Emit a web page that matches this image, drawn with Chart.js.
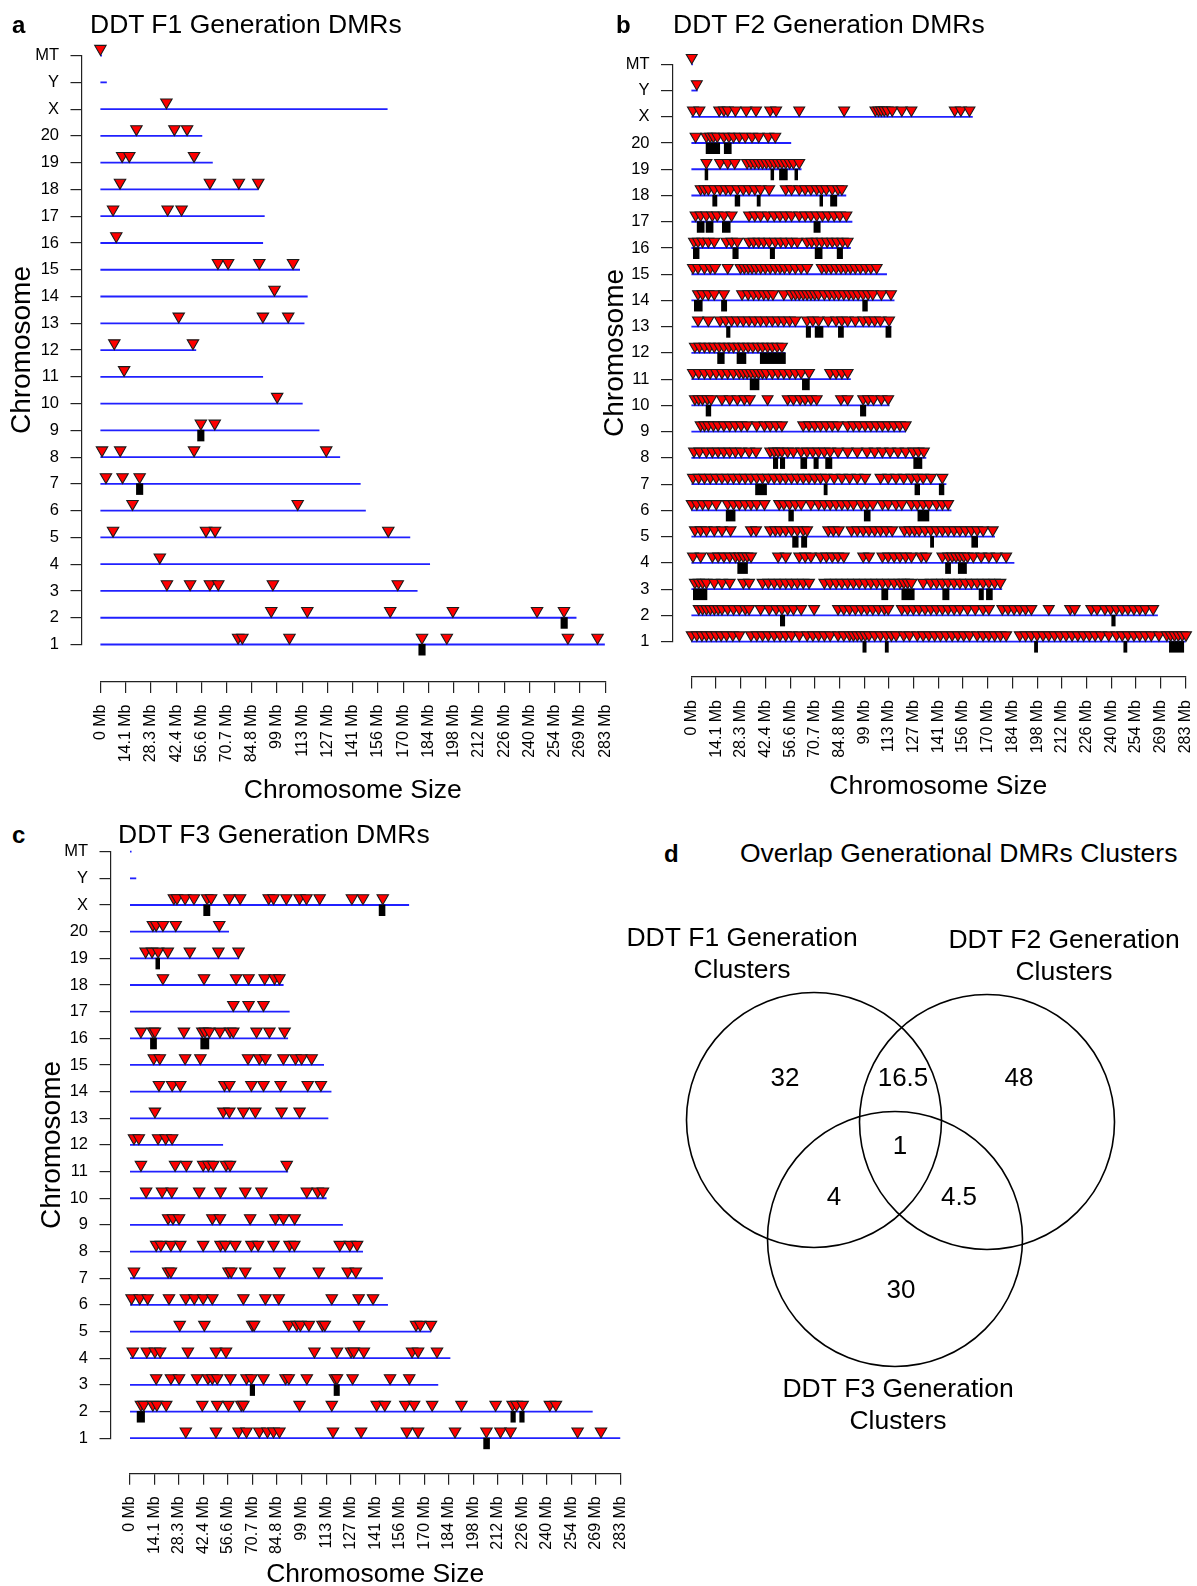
<!DOCTYPE html>
<html><head><meta charset="utf-8">
<script src="https://cdn.jsdelivr.net/npm/chart.js@4.4.1/dist/chart.umd.min.js"></script>
<style>
html,body{margin:0;padding:0;background:#fff;overflow:hidden;width:1197px;height:1586px;}
#stage{position:relative;width:1197px;height:1586px;overflow:hidden;}
canvas{position:absolute;}
.t{position:absolute;white-space:nowrap;font-family:"Liberation Sans",Arial,Helvetica,sans-serif;color:#000;line-height:1;}
</style></head><body><div id="stage"></div>
<script>
// ---------------- DATA ----------------
const chromLabels = ['1','2','3','4','5','6','7','8','9','10','11','12','13','14','15','16','17','18','19','20','X','Y','MT'];
const chromLengths = [282.8,266.9,177.8,184.8,173.7,148.8,145.9,134.4,122.8,113.4,91.2,53.7,114.4,116.2,111.9,91.2,92.1,88.6,63.0,57.1,161.0,3.6,0.9];
const xTickValues = [0,14.15,28.3,42.45,56.6,70.75,84.9,99.05,113.2,127.35,141.5,155.65,169.8,183.95,198.1,212.25,226.4,240.55,254.7,268.85,283];
const xTickLabels = ['0 Mb','14.1 Mb','28.3 Mb','42.4 Mb','56.6 Mb','70.7 Mb','84.8 Mb','99 Mb','113 Mb','127 Mb','141 Mb','156 Mb','170 Mb','184 Mb','198 Mb','212 Mb','226 Mb','240 Mb','254 Mb','269 Mb','283 Mb'];

// DMR positions (Mb), one list per chromosome in chromLabels order
const f1DMRs = [
 [77.2,79.6,106.0,180.3,194.2,262.1,278.7],
 [95.8,116.0,162.5,197.6,244.8,259.9],
 [37.3,50.3,61.4,66.1,96.7,166.7],
 [33.3],
 [7.1,59.2,64.3,161.4],
 [18.0,110.6],
 [3.1,12.4,22.0],
 [0.9,11.1,52.5,126.6],
 [56.3,64.1],
 [99.1],
 [13.3],
 [7.8,51.9],
 [43.9,91.1,105.3],
 [97.6],
 [65.9,71.6,89.1,108.0],
 [8.9],
 [7.1,37.7,45.5],
 [11.0,61.4,77.6,88.5],
 [12.2,16.2,52.5],
 [20.2,41.5,48.6],
 [37.0],
 [],
 [0.0]
];
const f1Clusters = [['9',54.3,58.3],['7',20.0,24.0],['2',258.0,262.0],['1',178.3,182.3]];

const f2DMRs = [
 [0.2,3.1,6.0,8.6,11.3,14.2,17.0,20.1,23.7,27.4,34.1,37.4,40.7,44.0,47.4,50.7,54.0,57.3,61.7,66.2,69.5,72.8,76.1,79.4,83.9,87.2,90.5,92.7,94.9,97.2,99.4,101.6,104.9,108.2,111.5,114.4,117.1,121.5,124.8,129.2,132.6,135.9,139.2,142.5,145.8,149.2,152.5,155.8,159.1,163.5,166.9,170.2,173.5,176.8,180.1,187.9,191.2,194.5,197.8,201.2,204.5,207.8,211.1,214.4,217.8,221.1,224.4,227.7,231.0,234.4,238.8,243.2,246.5,249.8,253.2,256.5,259.8,263.1,267.5,272.0,274.2,276.4,278.6,280.8,283.0],
 [4.2,6.4,8.6,10.8,13.1,15.3,17.5,20.8,24.1,27.4,30.8,33.0,39.6,44.5,48.5,51.8,55.1,58.4,62.8,70.2,83.9,87.2,90.5,93.8,97.2,100.5,103.8,107.1,110.4,112.6,120.4,123.7,127.0,130.3,133.7,137.0,140.3,143.6,146.9,150.3,153.6,158.0,162.4,166.9,170.2,177.9,181.2,184.6,187.9,191.2,194.5,204.5,216.7,219.3,228.8,232.1,236.6,239.9,243.2,246.5,249.8,253.2,256.5,259.8,264.2],
 [2.0,4.2,6.4,8.6,13.1,17.5,21.9,29.7,33.0,40.7,44.0,47.4,50.7,54.0,57.3,60.6,64.0,67.3,76.1,79.4,82.8,86.1,89.4,92.7,96.0,99.4,102.7,106.0,109.3,112.6,116.0,119.3,121.5,123.7,125.9,132.6,137.0,140.3,143.6,146.9,150.3,153.6,156.9,160.2,163.5,166.9,170.2,173.5,176.8],
 [0.9,5.3,12.0,15.3,18.6,21.9,25.2,27.4,29.7,31.9,34.1,49.6,54.0,61.7,65.1,68.4,73.9,77.2,80.6,83.9,87.2,98.3,101.6,109.3,112.6,116.0,119.3,122.6,125.9,131.5,134.3,143.6,146.9,149.2,151.4,153.6,155.8,158.0,161.3,165.8,170.2,174.6,180.1],
 [2.0,5.3,8.6,13.1,17.5,22.4,34.1,37.0,45.1,48.0,50.7,54.0,57.3,60.6,64.0,66.2,78.3,81.2,84.3,91.6,94.9,98.3,101.6,104.9,108.2,111.5,114.9,121.9,124.8,127.7,130.3,133.7,137.0,140.3,143.6,146.9,150.3,153.6,156.9,160.2,163.5,166.9,172.4],
 [0.2,3.1,6.4,9.7,14.2,20.8,24.1,27.4,30.8,34.1,37.4,41.8,50.2,52.9,56.2,59.5,62.8,68.4,72.8,76.1,79.4,82.8,86.1,89.4,92.7,97.2,100.5,103.8,109.3,112.6,117.1,120.4,125.9,129.2,132.6,135.9,140.3,143.6,146.9],
 [0.9,4.2,7.5,10.8,14.2,17.5,20.8,24.1,27.4,30.8,34.1,37.4,40.7,44.0,47.4,50.7,54.0,57.3,60.6,64.0,67.3,70.6,73.9,77.2,81.7,86.1,90.5,94.9,99.4,108.2,112.6,117.1,121.5,125.9,129.2,132.6,137.0,143.6],
 [1.5,4.6,8.6,12.0,15.3,18.6,21.9,25.2,28.5,33.0,37.0,45.1,47.4,49.6,51.8,55.1,58.4,62.8,66.2,69.5,72.8,76.1,79.4,83.9,89.4,94.9,100.5,104.9,109.3,113.7,118.2,122.6,127.0,129.9,133.0],
 [5.3,7.5,9.7,12.6,15.3,18.6,21.9,25.2,28.5,31.9,37.4,41.8,45.1,48.5,51.8,64.0,67.3,70.6,73.9,77.2,80.6,83.9,89.4,92.7,96.0,99.4,102.7,106.0,109.3,112.6,116.0,119.3,122.6],
 [2.0,4.2,6.4,9.1,11.3,17.5,21.9,26.3,30.3,33.4,43.6,55.1,58.4,62.2,65.1,68.4,71.7,85.6,89.4,98.3,101.1,104.2,108.7,112.6],
 [0.9,4.2,7.5,10.8,14.2,17.5,20.8,24.1,27.4,29.7,31.9,34.1,36.3,38.5,40.7,42.9,46.3,49.6,52.9,56.2,59.5,62.8,67.3,79.4,82.8,86.1,89.4],
 [2.0,4.6,7.5,10.4,13.1,15.9,18.6,21.5,24.1,27.0,29.7,32.5,35.2,38.1,40.7,43.6,46.3,49.1,51.8],
 [3.8,9.7,16.4,19.7,23.0,26.3,29.7,33.0,36.3,39.6,42.9,46.3,49.6,52.9,56.2,59.5,66.2,69.5,72.8,78.3,82.8,86.1,89.4,93.8,98.3,101.6,104.9,108.2,113.1],
 [3.8,6.4,9.7,13.1,18.6,29.0,32.5,35.6,38.5,41.4,44.0,46.7,52.9,57.3,59.5,61.7,64.0,66.2,68.4,70.6,72.8,76.1,79.0,81.7,84.3,87.2,90.1,92.7,95.4,98.3,101.1,103.8,108.7,114.2],
 [0.9,3.8,7.5,10.8,13.5,20.8,28.1,30.3,32.5,34.7,37.0,39.6,42.3,45.1,48.0,50.7,53.3,56.2,59.5,62.8,66.2,74.6,77.2,79.9,82.8,85.6,88.3,91.0,93.8,96.7,99.8,102.7,106.0],
 [1.5,3.8,6.4,9.7,13.1,20.1,23.0,26.3,33.0,35.6,38.5,41.4,44.5,48.0,51.1,54.0,57.3,60.6,66.2,68.8,71.7,74.6,77.7,80.6,83.4,86.5,89.4],
 [2.4,5.3,8.6,12.0,14.8,18.6,23.0,33.0,36.3,39.6,43.6,47.4,50.7,54.0,57.3,61.7,65.1,68.4,71.7,75.0,78.3,81.7,85.0,88.7],
 [5.3,7.5,9.7,13.1,16.4,19.7,22.4,26.3,29.7,33.0,36.3,39.6,44.5,54.0,57.3,61.7,65.1,68.4,71.7,74.4,77.2,80.6,83.9,86.1],
 [8.6,16.4,20.8,24.8,31.9,34.1,36.3,38.5,40.7,42.9,45.1,47.4,49.6,51.8,54.0,56.2,58.4,61.7],
 [2.4,8.6,10.8,12.6,14.8,18.6,21.5,24.1,27.4,30.8,34.7,38.5,44.0,48.0],
 [0.9,4.6,15.9,18.6,20.8,25.2,31.4,37.0,45.1,48.5,61.7,87.4,105.3,107.1,108.7,110.4,112.2,114.9,120.4,125.9,150.7,154.2,159.1],
 [3.1],
 [0.2]
];
const f2Clusters = [
 ['20',8.2,16.4],['20',18.6,23.0],
 ['19',7.6,9.6],['19',45.3,47.3],['19',50.2,55.1],['19',59.0,61.0],
 ['18',12.0,14.8],['18',24.8,27.9],['18',37.4,39.6],['18',73.3,75.3],['18',79.4,83.4],
 ['17',3.1,7.5],['17',8.2,12.6],['17',17.5,22.4],['17',69.9,73.9],
 ['16',0.9,4.6],['16',23.5,27.0],['16',44.9,47.8],['16',70.6,75.0],['16',83.2,86.7],
 ['14',1.5,6.4],['14',17.0,20.4],['14',97.8,100.9],
 ['13',19.9,22.3],['13',65.5,68.4],['13',70.6,75.5],['13',83.9,87.2],['13',111.1,114.4],
 ['12',14.8,19.0],['12',25.9,31.4],['12',39.2,54.0],
 ['11',33.4,38.9],['11',63.3,67.7],
 ['10',8.2,11.3],['10',96.5,100.0],
 ['8',46.7,49.6],['8',50.7,53.6],['8',62.4,66.2],['8',69.9,72.8],['8',76.6,80.6],['8',127.0,132.1],
 ['7',36.5,43.2],['7',75.7,77.9],['7',127.7,130.8],['7',141.6,144.7],
 ['6',19.7,25.2],['6',55.5,58.6],['6',98.7,102.5],['6',129.4,136.1],
 ['5',57.7,61.3],['5',62.8,66.2],['5',136.6,138.8],['5',160.2,164.0],
 ['4',26.3,32.3],['4',145.2,148.5],['4',152.5,157.6],
 ['3',0.9,9.1],['3',108.7,112.6],['3',120.2,127.7],['3',143.6,147.6],['3',164.4,167.3],['3',168.6,172.4],
 ['2',50.7,53.6],['2',240.3,242.7],
 ['1',97.9,100.2],['1',110.7,112.9],['1',196.1,198.3],['1',247.2,249.4],['1',273.3,281.9]
];

const f3DMRs = [
 [32.2,49.6,62.6,67.2,74.6,79.3,82.8,86.2,117.1,133.3,159.7,166.2,187.5,205.6,213.7,219.5,258.2,271.7],
 [6.3,7.9,13.2,15.5,20.9,41.7,50.3,56.8,64.2,65.4,97.8,116.4,142.3,147.0,158.8,163.9,174.3,191.2,210.9,220.7,223.0,226.5,242.2,245.7],
 [15.1,23.6,28.3,38.7,45.0,47.5,50.3,57.9,67.2,70.0,77.0,89.7,91.6,102.0,118.2,119.4,128.4,150.0,161.1],
 [1.6,9.7,14.4,17.4,33.4,49.6,55.4,106.4,119.4,127.5,129.1,134.9,162.7,166.2,177.1],
 [28.7,42.9,70.5,71.6,91.6,96.2,98.3,103.2,111.0,112.4,132.1,165.0,167.4,173.6],
 [0.9,5.6,10.2,22.5,32.2,37.1,42.2,47.5,65.4,78.1,85.8,116.4,131.9,140.2],
 [2.3,22.0,23.6,56.8,58.4,66.5,86.2,108.9,125.6,130.3],
 [15.1,17.8,23.6,29.0,42.2,52.2,54.9,60.7,70.0,73.9,82.8,92.0,94.8,121.0,126.8,131.0],
 [22.0,24.8,28.3,47.5,51.9,69.3,83.9,88.5,95.0],
 [9.3,18.5,24.1,39.9,52.2,66.5,75.8,102.0,108.3,111.3],
 [6.3,26.0,32.5,42.2,45.2,48.0,55.4,57.7,90.4],
 [2.3,5.1,16.2,20.6,24.3],
 [14.4,53.8,57.3,65.4,72.3,87.4,97.8],
 [16.7,24.3,29.0,54.5,57.3,70.0,77.0,86.9,102.5,110.1],
 [13.7,17.2,31.8,40.6,68.1,74.6,78.1,88.5,95.5,99.0,104.8],
 [6.3,13.2,14.4,31.1,41.7,43.3,45.7,51.9,57.7,59.6,73.0,80.4,89.2],
 [59.6,68.4,77.0],
 [19.0,42.7,61.2,68.4,77.7,83.4,86.2],
 [9.0,12.7,16.2,21.8,34.5,51.0,62.6],
 [13.2,15.1,19.0,26.4,51.5],
 [25.3,27.1,31.8,36.9,44.5,46.8,57.3,63.5,80.0,82.8,90.2,97.8,101.8,109.4,128.0,134.4,145.8],
 [],
 []
];
const f3Clusters = [['X',42.3,46.3],['X',143.5,147.3],['19',14.7,17.3],['16',11.6,15.5],['16',40.6,45.7],['3',69.1,72.1],['3',117.5,121.0],['2',3.9,8.6],['2',219.5,222.5],['2',224.6,227.6],['1',203.8,207.6]];

// Venn diagram
const vennSetLabels = [['DDT F1 Generation','Clusters'],['DDT F2 Generation','Clusters'],['DDT F3 Generation','Clusters']];
const vennRegionNames = ['F1 only','F1 & F2','F2 only','F1 & F2 & F3','F1 & F3','F2 & F3','F3 only'];
const vennRegionValues = [32, 16.5, 48, 1, 4, 4.5, 30];

// ---------------- LAYOUT (pixels) ----------------
const FONT = '"Liberation Sans", Arial, Helvetica, sans-serif';
const BIG = 26.5;
const YTITLE = 28;
const PANELS = [
 {dmrs:f1DMRs, clusters:f1Clusters, yAxisX:82, x0:100.4, x283:605.2, yTop:55.6, yBot:644.5, xAxisY:681.5, xTitleY:791, yTitleX:22, triR:6.6},
 {dmrs:f2DMRs, clusters:f2Clusters, yAxisX:672.5, x0:691.4, x283:1186, yTop:64.3, yBot:641.6, xAxisY:677, xTitleY:787, yTitleX:615, triR:6.3},
 {dmrs:f3DMRs, clusters:f3Clusters, yAxisX:111, x0:130, x283:620.6, yTop:851.7, yBot:1438.2, xAxisY:1473.3, xTitleY:1575, yTitleX:52, triR:6.6}
];
const VENN_BOX = {left:620, top:880, width:577, height:566};
const VENN_CIRCLES = [{x:194,y:240},{x:367,y:242},{x:275,y:359}];
const VENN_R = 127.5;
const VENN_SET_POS = [{x:122,y:59},{x:444,y:61},{x:278,y:510}];
const VENN_LINE_GAP = 32;
const VENN_VALUE_POS = [{x:165,y:199},{x:283,y:199},{x:399,y:199},{x:280,y:267},{x:214,y:318},{x:339,y:318},{x:281,y:411}];

Chart.defaults.font.family = FONT;
Chart.defaults.color = '#000';
const stage = document.getElementById('stage');

function makeCanvas(left, top, w, h) {
  const c = document.createElement('canvas');
  c.width = w; c.height = h;
  c.style.left = left + 'px'; c.style.top = top + 'px';
  c.style.width = w + 'px'; c.style.height = h + 'px';
  stage.appendChild(c);
  return c;
}
function addText(text, left, baseline, size, bold) {
  const d = document.createElement('div');
  d.className = 't';
  d.textContent = text;
  d.style.fontSize = size + 'px';
  d.style.lineHeight = size + 'px';
  if (bold) d.style.fontWeight = 'bold';
  d.style.left = left + 'px';
  d.style.top = (baseline - 0.8465 * size) + 'px';
  stage.appendChild(d);
}

function buildPanel(P) {
  const step = (P.yBot - P.yTop) / 22;
  const pxPerMb = (P.x283 - P.x0) / 283;
  const triOff = (P.triR + 0.3) / step;
  const barH = 11.5;
  const barOff = (barH / 2 - 0.5) / step;
  const datasets = [];
  const pts = [];
  P.dmrs.forEach((arr, i) => arr.forEach(mb => pts.push({x: mb, y: i + 1 + triOff})));
  datasets.push({type:'scatter', data:pts, order:0, showLine:false, clip:false,
    pointStyle:'triangle', pointRotation:180, pointRadius:P.triR, pointHoverRadius:P.triR,
    pointBackgroundColor:'#ff0000', pointBorderColor:'#1a1a1a', pointBorderWidth:1.1});
  P.clusters.forEach(c => {
    const yv = chromLabels.indexOf(c[0]) + 1 - barOff;
    datasets.push({type:'line', data:[{x:c[1], y:yv}, {x:c[2], y:yv}], order:1, clip:false,
      borderColor:'#000', borderWidth:barH, borderCapStyle:'butt', pointRadius:0, fill:false, tension:0});
  });
  chromLengths.forEach((len, i) => {
    datasets.push({type:'line', data:[{x:0, y:i + 1}, {x:len, y:i + 1}], order:2, clip:false,
      borderColor:'#2020ff', borderWidth:1.8, borderCapStyle:'butt', pointRadius:0, fill:false, tension:0});
  });

  // data + y axis chart
  const cl = Math.floor(P.yTitleX - 20);
  const ct = Math.floor(P.yTop - 22);
  const cw = Math.ceil(P.x283 + 12 - cl);
  const ch = Math.ceil(P.yBot + 22 - ct);
  new Chart(makeCanvas(cl, ct, cw, ch), {
    type:'scatter',
    data:{datasets},
    options:{
      responsive:false, animation:false, events:[], devicePixelRatio:1,
      layout:{autoPadding:false, padding:{left:0, top:P.yTop - ct, right:cl + cw - P.x283, bottom:ct + ch - P.yBot}},
      plugins:{legend:{display:false}, tooltip:{enabled:false}},
      scales:{
        x:{type:'linear', display:false, min:-(P.x0 - P.yAxisX) / pxPerMb, max:283},
        y:{type:'linear', position:'left', min:1, max:23,
          afterFit: s => { s.width = P.yAxisX - cl; },
          afterBuildTicks: s => { s.ticks = chromLabels.map((_, i) => ({value:i + 1})); },
          ticks:{autoSkip:false, padding:11.5, color:'#000', font:{size:16.5}, callback: v => chromLabels[Math.round(v) - 1]},
          grid:{drawOnChartArea:false, drawTicks:true, tickLength:11.5, color:'#222', lineWidth:1.2},
          border:{display:true, color:'#222', width:1.2},
          title:{display:true, text:'Chromosome', color:'#000', font:{size:YTITLE}, padding:{top:P.yTitleX - cl - YTITLE * 0.6, bottom:0}}
        }
      }
    }
  });

  // x axis chart
  const bl = Math.floor(P.x0 - 30);
  const bt = Math.floor(P.xAxisY - 10);
  const bw = Math.ceil(P.x283 + 30 - bl);
  const bh = Math.ceil(P.xTitleY + BIG * 0.6 + 1 - bt);
  const axisH = bh - (P.xAxisY - bt);
  new Chart(makeCanvas(bl, bt, bw, bh), {
    type:'scatter',
    data:{datasets:[]},
    options:{
      responsive:false, animation:false, events:[], devicePixelRatio:1,
      layout:{autoPadding:false, padding:{left:P.x0 - bl, right:bl + bw - P.x283, top:0, bottom:0}},
      plugins:{legend:{display:false}, tooltip:{enabled:false}},
      scales:{
        x:{type:'linear', position:'bottom', min:0, max:283,
          afterFit: s => { s.height = axisH; },
          afterBuildTicks: s => { s.ticks = xTickValues.map(v => ({value:v})); },
          ticks:{autoSkip:false, minRotation:90, maxRotation:90, padding:11.5, color:'#000', font:{size:16}, callback:(v, i) => xTickLabels[i]},
          grid:{drawOnChartArea:false, tickLength:11.5, color:'#222', lineWidth:1.2},
          border:{display:true, color:'#222', width:1.2},
          title:{display:true, text:'Chromosome Size', color:'#000', font:{size:BIG}, padding:{top:0, bottom:bt + bh - BIG * 0.6 - P.xTitleY}}
        },
        y:{display:false, min:0, max:1}
      }
    }
  });
}
PANELS.forEach(buildPanel);

// Venn
const vennTextPlugin = {
  id:'vennText',
  afterDatasetsDraw(chart) {
    const {ctx} = chart;
    const xs = chart.scales.x, ys = chart.scales.y;
    ctx.save();
    ctx.fillStyle = '#000';
    ctx.textAlign = 'center';
    ctx.textBaseline = 'middle';
    ctx.font = BIG + 'px ' + FONT;
    vennSetLabels.forEach((lines, i) => {
      lines.forEach((ln, j) => {
        ctx.fillText(ln, xs.getPixelForValue(VENN_SET_POS[i].x), ys.getPixelForValue(VENN_SET_POS[i].y + j * VENN_LINE_GAP));
      });
    });
    ctx.font = '26px ' + FONT;
    vennRegionValues.forEach((v, i) => {
      ctx.fillText(String(v), xs.getPixelForValue(VENN_VALUE_POS[i].x), ys.getPixelForValue(VENN_VALUE_POS[i].y));
    });
    ctx.restore();
  }
};
new Chart(makeCanvas(VENN_BOX.left, VENN_BOX.top, VENN_BOX.width, VENN_BOX.height), {
  type:'bubble',
  data:{datasets:[{data:VENN_CIRCLES.map(c => ({x:c.x, y:c.y, r:VENN_R})), backgroundColor:'rgba(0,0,0,0)', borderColor:'#000', borderWidth:1.6, hoverBorderWidth:1.6, clip:false}]},
  options:{
    responsive:false, animation:false, events:[], devicePixelRatio:1,
    layout:{autoPadding:false, padding:0},
    plugins:{legend:{display:false}, tooltip:{enabled:false}},
    scales:{x:{display:false, min:0, max:VENN_BOX.width}, y:{display:false, min:0, max:VENN_BOX.height, reverse:true}}
  },
  plugins:[vennTextPlugin]
});

// Panel letters and titles
addText('a', 12, 33, 24, true);
addText('DDT F1 Generation DMRs', 90, 33, BIG);
addText('b', 616, 33, 24, true);
addText('DDT F2 Generation DMRs', 673, 33, BIG);
addText('c', 12, 843, 24, true);
addText('DDT F3 Generation DMRs', 118, 843, BIG);
addText('d', 664, 862, 24, true);
addText('Overlap Generational DMRs Clusters', 740, 862, BIG);
</script></body></html>
